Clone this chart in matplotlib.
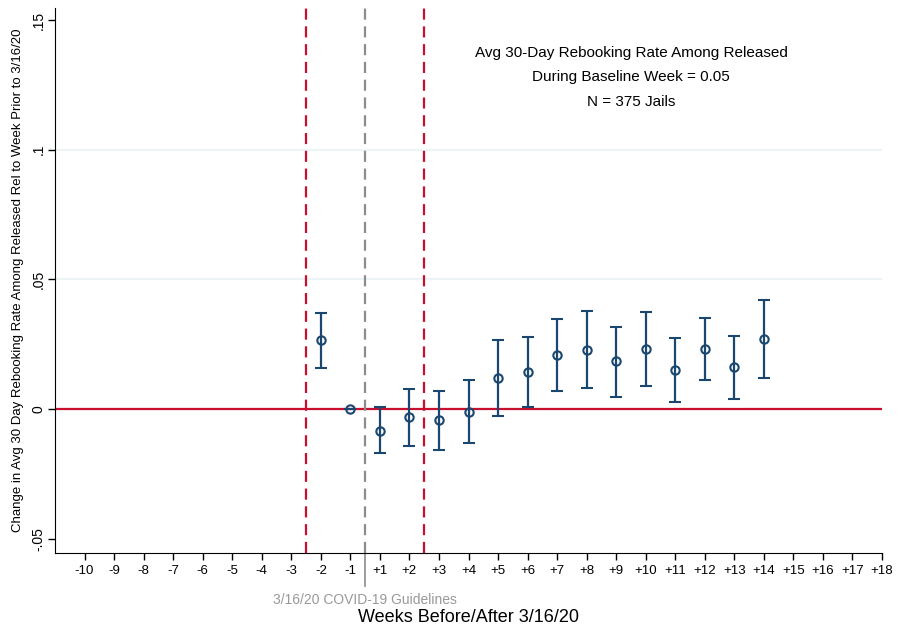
import matplotlib.pyplot as plt

plt.rcParams['font.family'] = ['Liberation Sans', 'DejaVu Sans']

# event-study estimates by week relative to 3/16/20
week_labels = ['-10', '-9', '-8', '-7', '-6', '-5', '-4', '-3', '-2', '-1',
               '+1', '+2', '+3', '+4', '+5', '+6', '+7', '+8', '+9', '+10',
               '+11', '+12', '+13', '+14', '+15', '+16', '+17', '+18']
est_weeks = ['-2', '-1', '+1', '+2', '+3', '+4', '+5', '+6', '+7', '+8',
             '+9', '+10', '+11', '+12', '+13', '+14']
coef = [0.0265, 0.0, -0.0082, -0.0031, -0.0041, -0.0009, 0.0120, 0.0143,
        0.0208, 0.0229, 0.0185, 0.0234, 0.0152, 0.0232, 0.0161, 0.0270]
ci_lo = [0.0158, 0.0, -0.0170, -0.0142, -0.0156, -0.0130, -0.0027, 0.0009,
         0.0070, 0.0081, 0.0049, 0.0090, 0.0027, 0.0112, 0.0041, 0.0121]
ci_hi = [0.0372, 0.0, 0.0008, 0.0078, 0.0072, 0.0113, 0.0266, 0.0277,
         0.0349, 0.0377, 0.0318, 0.0376, 0.0273, 0.0351, 0.0281, 0.0421]

navy = '#1a476f'
red = '#c8102e'

fig = plt.figure(figsize=(8.97, 6.31), dpi=100)
ax = fig.add_axes([0.0613, 0.1236, 0.922, 0.8637])

pos = [week_labels.index(w) for w in est_weeks]
err = [[c - lo for c, lo in zip(coef, ci_lo)], [hi - c for c, hi in zip(coef, ci_hi)]]

# light gridlines
for g in [0.05, 0.1]:
    ax.axhline(g, color='#eaf2f3', lw=1.2, zorder=0)

ax.axhline(0, color=red, lw=1.6, zorder=1)
ax.axvline(7.5, color=red, lw=1.6, ls=(0, (5, 3)), zorder=1)
ax.axvline(11.5, color=red, lw=1.6, ls=(0, (5, 3)), zorder=1)
ax.axvline(9.5, color='#8c8c8c', lw=1.6, ls=(0, (5, 3)), zorder=1)

ax.errorbar(pos, coef, yerr=err, fmt='o', color=navy, ecolor=navy,
            elinewidth=1.6, capsize=4.5, capthick=1.6,
            markersize=6, markerfacecolor='none', markeredgewidth=1.5, zorder=3)

ax.set_xlim(-1, 27)
ax.set_ylim(-0.0554, 0.1546)
ax.set_xticks(range(len(week_labels)))
ax.set_xticklabels(week_labels, fontsize=9.5)
ax.set_yticks([-0.05, 0, 0.05, 0.1, 0.15])
ax.set_yticklabels(['-.05', '0', '.05', '.1', '.15'], fontsize=10, rotation=90, va='center')
ax.tick_params(axis='both', direction='out', length=5, width=1)
ax.tick_params(axis='y', pad=2)

for side in ['top', 'right']:
    ax.spines[side].set_visible(False)

ax.set_ylabel('Change in Avg 30 Day Rebooking Rate Among Released Rel to Week Prior to 3/16/20',
              fontsize=9.5, labelpad=5)
ax.set_xlabel('Weeks Before/After 3/16/20', fontsize=13, labelpad=23)

# guideline marker below the axis
ax.plot([9.5, 9.5], [0, -0.06], color='#8c8c8c', lw=1.2,
        transform=ax.get_xaxis_transform(), clip_on=False)
ax.text(9.5, -0.086, '3/16/20 COVID-19 Guidelines', color='#999999', fontsize=10,
        ha='center', va='center', transform=ax.get_xaxis_transform())

ax.text(0.6965, 0.873, 'Avg 30-Day Rebooking Rate Among Released\nDuring Baseline Week = 0.05\nN = 375 Jails',
        transform=ax.transAxes, ha='center', va='center', fontsize=11, linespacing=1.95)

fig.savefig('out.png', dpi=100)
